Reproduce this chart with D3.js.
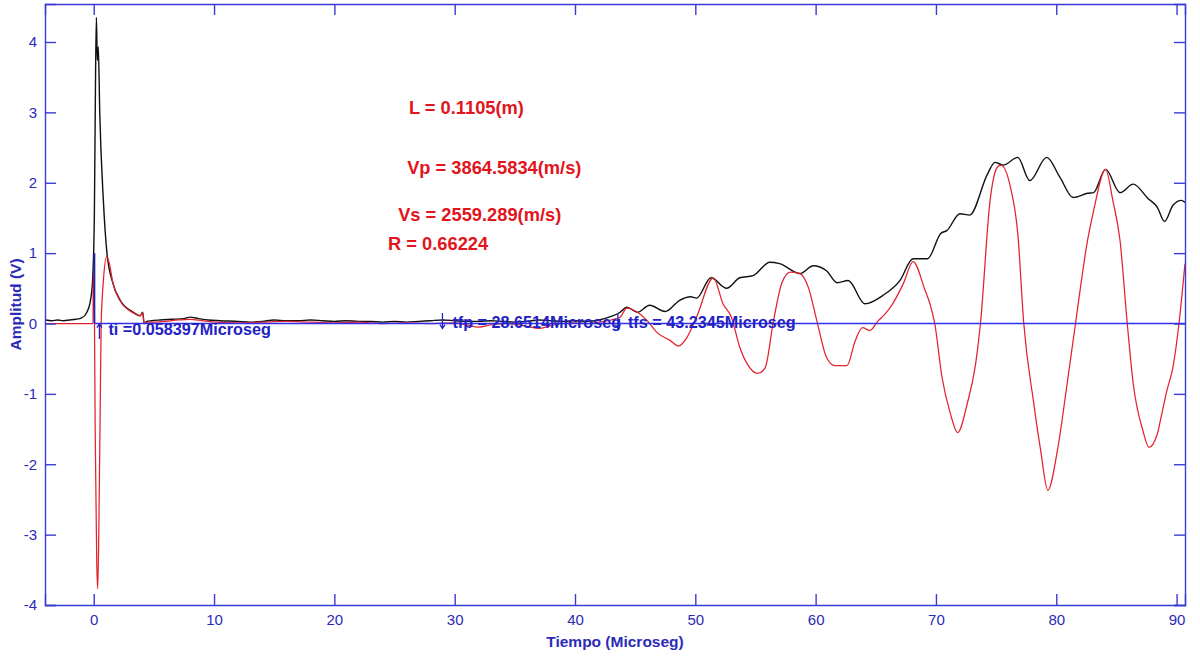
<!DOCTYPE html>
<html><head><meta charset="utf-8">
<script src="https://cdn.jsdelivr.net/npm/d3@7"></script>
<style>html,body{margin:0;padding:0;background:#fff;}</style>
</head><body>
<svg id="chart" width="1200" height="660"></svg>
<script>
// ---- data ----
const xTicks = [0,10,20,30,40,50,60,70,80,90];
const yTicks = [-4,-3,-2,-1,0,1,2,3,4];
const blackT = [-4.0,-3.5,-3.0,-2.5,-2.0,-1.5,-1.0,-0.6,-0.3,-0.1,0.05,0.15,0.22,0.3,0.38,0.5,0.8,1.1,1.6,2.2,3.3,3.85,4.07,4.19,4.4,4.8,5.5,6.5,7.5,8.0,8.7,9.5,10.5,12,13,14,15,16,17,18,19,20,21,22,23,24,25,26,27,28,29,30,31,32,33,34,35,36,37,38,39,40,41,42,43,43.75,44.3,45.2,46.2,47.5,48.7,49.6,50.1,51.3,52.6,53.7,54.8,56.2,57.0,58.7,59.8,60.9,61.8,62.7,64.1,65.6,67.0,68.1,69.3,70.4,70.9,72.0,72.8,74.3,74.9,75.6,76.8,77.8,79.2,80.3,81.4,82.6,83.1,84.1,85.3,86.4,87.6,88.4,89.0,89.7,90.4,90.7];
const blackV = [0.05,0.04,0.05,0.04,0.05,0.06,0.08,0.15,0.3,0.6,1.5,3.5,4.35,3.74,3.93,3.0,1.75,1.0,0.57,0.33,0.16,0.11,0.16,0.0,0.03,0.04,0.05,0.06,0.07,0.09,0.07,0.05,0.04,0.03,0.02,0.03,0.05,0.04,0.04,0.05,0.04,0.03,0.04,0.03,0.03,0.02,0.03,0.02,0.03,0.04,0.05,0.04,0.03,0.03,0.04,0.03,0.02,0.03,0.05,0.04,0.03,0.04,0.03,0.05,0.1,0.16,0.23,0.16,0.26,0.17,0.33,0.38,0.36,0.65,0.5,0.65,0.68,0.87,0.85,0.71,0.82,0.75,0.58,0.61,0.28,0.40,0.61,0.92,0.92,1.28,1.32,1.56,1.54,2.13,2.29,2.25,2.36,2.03,2.36,2.08,1.79,1.85,1.86,2.19,1.86,1.98,1.78,1.65,1.45,1.68,1.75,1.72];
const redT = [-4.0,-0.06,-0.04,0.05,0.12,0.25,0.33,0.42,0.55,0.62,0.8,1.08,1.3,1.6,2.2,3.3,3.85,4.07,4.19,4.5,5,6,7,8,9,10,12,14,16,18,20,22,24,26,28,30,31,32,33,34,35,36,37,38,39,40,41,42,43,43.75,44.3,45.2,46.0,46.9,47.9,48.6,49.3,50.1,51.5,52.3,53.0,53.7,54.3,55.2,55.8,56.5,57.2,57.9,58.7,59.4,60.1,60.9,61.6,62.6,63.3,63.9,64.5,65.2,65.8,66.4,67.3,68.1,69.1,69.5,69.9,70.5,71.2,71.8,72.6,73.3,73.7,74.5,75.1,75.4,76.2,76.8,77.3,78.1,78.7,79.3,80.1,80.9,81.6,82.6,83.1,84.1,84.7,85.3,85.9,86.4,87.2,87.7,88.4,88.7,89.2,89.7,90.2,90.7];
const redV = [0.0,0.0,0.72,0.3,-1.5,-3.4,-3.77,-3.0,-1.0,0.0,0.6,0.95,0.85,0.57,0.32,0.15,0.11,0.15,0.0,0.02,0.02,0.03,0.05,0.06,0.04,0.02,0.01,0.02,0.03,0.02,0.01,0.02,0.0,0.01,0.0,0.01,-0.02,-0.05,-0.02,0.0,-0.01,-0.04,-0.07,-0.03,0.0,0.01,0.0,0.02,0.05,0.09,0.22,0.16,0.04,-0.14,-0.24,-0.32,-0.2,0.09,0.65,0.28,0.09,-0.34,-0.57,-0.71,-0.63,0.04,0.58,0.73,0.71,0.51,0.04,-0.48,-0.6,-0.6,-0.24,-0.06,-0.1,0.04,0.14,0.28,0.57,0.88,0.47,0.28,0.0,-0.76,-1.28,-1.55,-1.14,-0.57,0.0,1.75,2.22,2.25,1.93,1.28,0.0,-1.1,-1.8,-2.37,-1.8,-0.86,0.0,1.18,1.6,2.19,1.75,1.18,0.0,-0.86,-1.52,-1.76,-1.57,-1.34,-0.95,-0.62,0.0,0.85];
const tiVal = 0.058397, tfpVal = 28.6514, tfsVal = 43.2345;
const markerLabels = ["ti =0.058397Microseg", "tfp = 28.6514Microseg", "tfs = 43.2345Microseg"];
const markerX = [tiVal, tfpVal, tfsVal];
const markerDir = ["up", "down", "down"];
const markerY = [-0.165, -0.065, -0.065];
const infoLabels = ["L = 0.1105(m)", "Vp = 3864.5834(m/s)", "Vs = 2559.289(m/s)", "R = 0.66224"];
const infoX = [26.2, 26.05, 25.3, 24.46];
const infoY = [2.97, 2.13, 1.45, 1.04];
const xDomain = [-4.05, 90.7];
const yDomain = [-4, 4.54];

// ---- drawing ----
const svg = d3.select("#chart");
const L = 45, R = 1185, T = 4, B = 605;
const axisColor = "#3a3ad6", labelColor = "#2b2bb8";
const x = d3.scaleLinear().domain(xDomain).range([L, R]);
const y = d3.scaleLinear().domain(yDomain).range([B, T]);
const font = "'Liberation Sans', Arial, sans-serif";
const narrow = "'Liberation Sans Narrow', 'Arial Narrow', 'Liberation Sans', Arial, sans-serif";

svg.append("clipPath").attr("id","clip").append("rect")
  .attr("x", L).attr("y", T).attr("width", R-L).attr("height", B-T);

const line = d3.line().x(d => x(d[0])).y(d => y(d[1])).curve(d3.curveMonotoneX);
const blackData = blackT.map((t,i) => [t, blackV[i]]);
const redData = redT.map((t,i) => [t, redV[i]]);

const plot = svg.append("g").attr("clip-path","url(#clip)");
plot.append("path").datum(blackData).attr("d", line)
  .attr("fill","none").attr("stroke","#111").attr("stroke-width",1.4);
plot.append("path").datum(redData).attr("d", line)
  .attr("fill","none").attr("stroke","#e3222b").attr("stroke-width",1.25);
// baseline and ti marker
plot.append("line").attr("x1", x(tiVal)).attr("x2", x(xDomain[1]))
  .attr("y1", y(0)).attr("y2", y(0)).attr("stroke","#3030f0").attr("stroke-width",1.5);
plot.append("line").attr("x1", x(tiVal)).attr("x2", x(tiVal))
  .attr("y1", y(0)).attr("y2", y(1)).attr("stroke","#2020b0").attr("stroke-width",1.8);

// axes
const tickLen = 11;
const fmt = d => String(d);
const axB = d3.axisBottom(x).tickValues(xTicks).tickSize(-tickLen).tickPadding(9).tickFormat(fmt);
const axT = d3.axisTop(x).tickValues(xTicks).tickSize(-tickLen).tickFormat("");
const axLft = d3.axisLeft(y).tickValues(yTicks).tickSize(-tickLen).tickPadding(8).tickFormat(fmt);
const axRt = d3.axisRight(y).tickValues(yTicks).tickSize(-tickLen).tickFormat("");
function style(sel){
  sel.select(".domain").attr("stroke", axisColor).attr("stroke-width",1.4);
  sel.selectAll(".tick line").attr("stroke", axisColor).attr("stroke-width",1.4);
  sel.selectAll(".tick text").attr("fill", labelColor).style("font-family", narrow).style("font-size","15px");
}
svg.append("g").attr("transform",`translate(0,${B})`).call(axB).call(style);
svg.append("g").attr("transform",`translate(0,${T})`).call(axT).call(style);
svg.append("g").attr("transform",`translate(${L},0)`).call(axLft).call(style);
svg.append("g").attr("transform",`translate(${R},0)`).call(axRt).call(style);

// axis titles
svg.append("text").attr("x", (L+R)/2).attr("y", 647).attr("text-anchor","middle")
  .attr("fill", labelColor).style("font-family", font).style("font-size","15.5px").style("font-weight","bold")
  .text("Tiempo (Microseg)");
svg.append("text").attr("transform",`translate(21,${(T+B)/2}) rotate(-90)`).attr("text-anchor","middle")
  .attr("fill", labelColor).style("font-family", font).style("font-size","15.5px").style("font-weight","bold")
  .text("Amplitud (V)");

// red info labels
svg.selectAll("text.info").data(infoLabels).enter().append("text").attr("class","info")
  .attr("x", (d,i) => x(infoX[i])).attr("y", (d,i) => y(infoY[i]))
  .attr("fill","#e2141c").style("font-family", font).style("font-size","18.3px").style("font-weight","bold")
  .text(d => d);

// blue marker arrows + labels
const mk = svg.selectAll("g.mk").data(markerLabels).enter().append("g").attr("class","mk")
  .attr("transform", (d,i) => `translate(${x(markerX[i])},${y(markerY[i])})`);
mk.append("path")
  .attr("d", (d,i) => markerDir[i] === "up"
    ? "M5,4 L5,-11 M2.5,-7.5 L5,-11.5 L7.5,-7.5"
    : "M4,-15 L4,0 M1.5,-3.5 L4,0.5 L6.5,-3.5")
  .attr("fill","none").attr("stroke","#2222c4").attr("stroke-width",1.3);
mk.append("text").attr("x", 14)
  .attr("fill","#2222c4").style("font-family", font).style("font-size","16.2px").style("font-weight","bold")
  .text(d => d);
</script>
</body></html>
